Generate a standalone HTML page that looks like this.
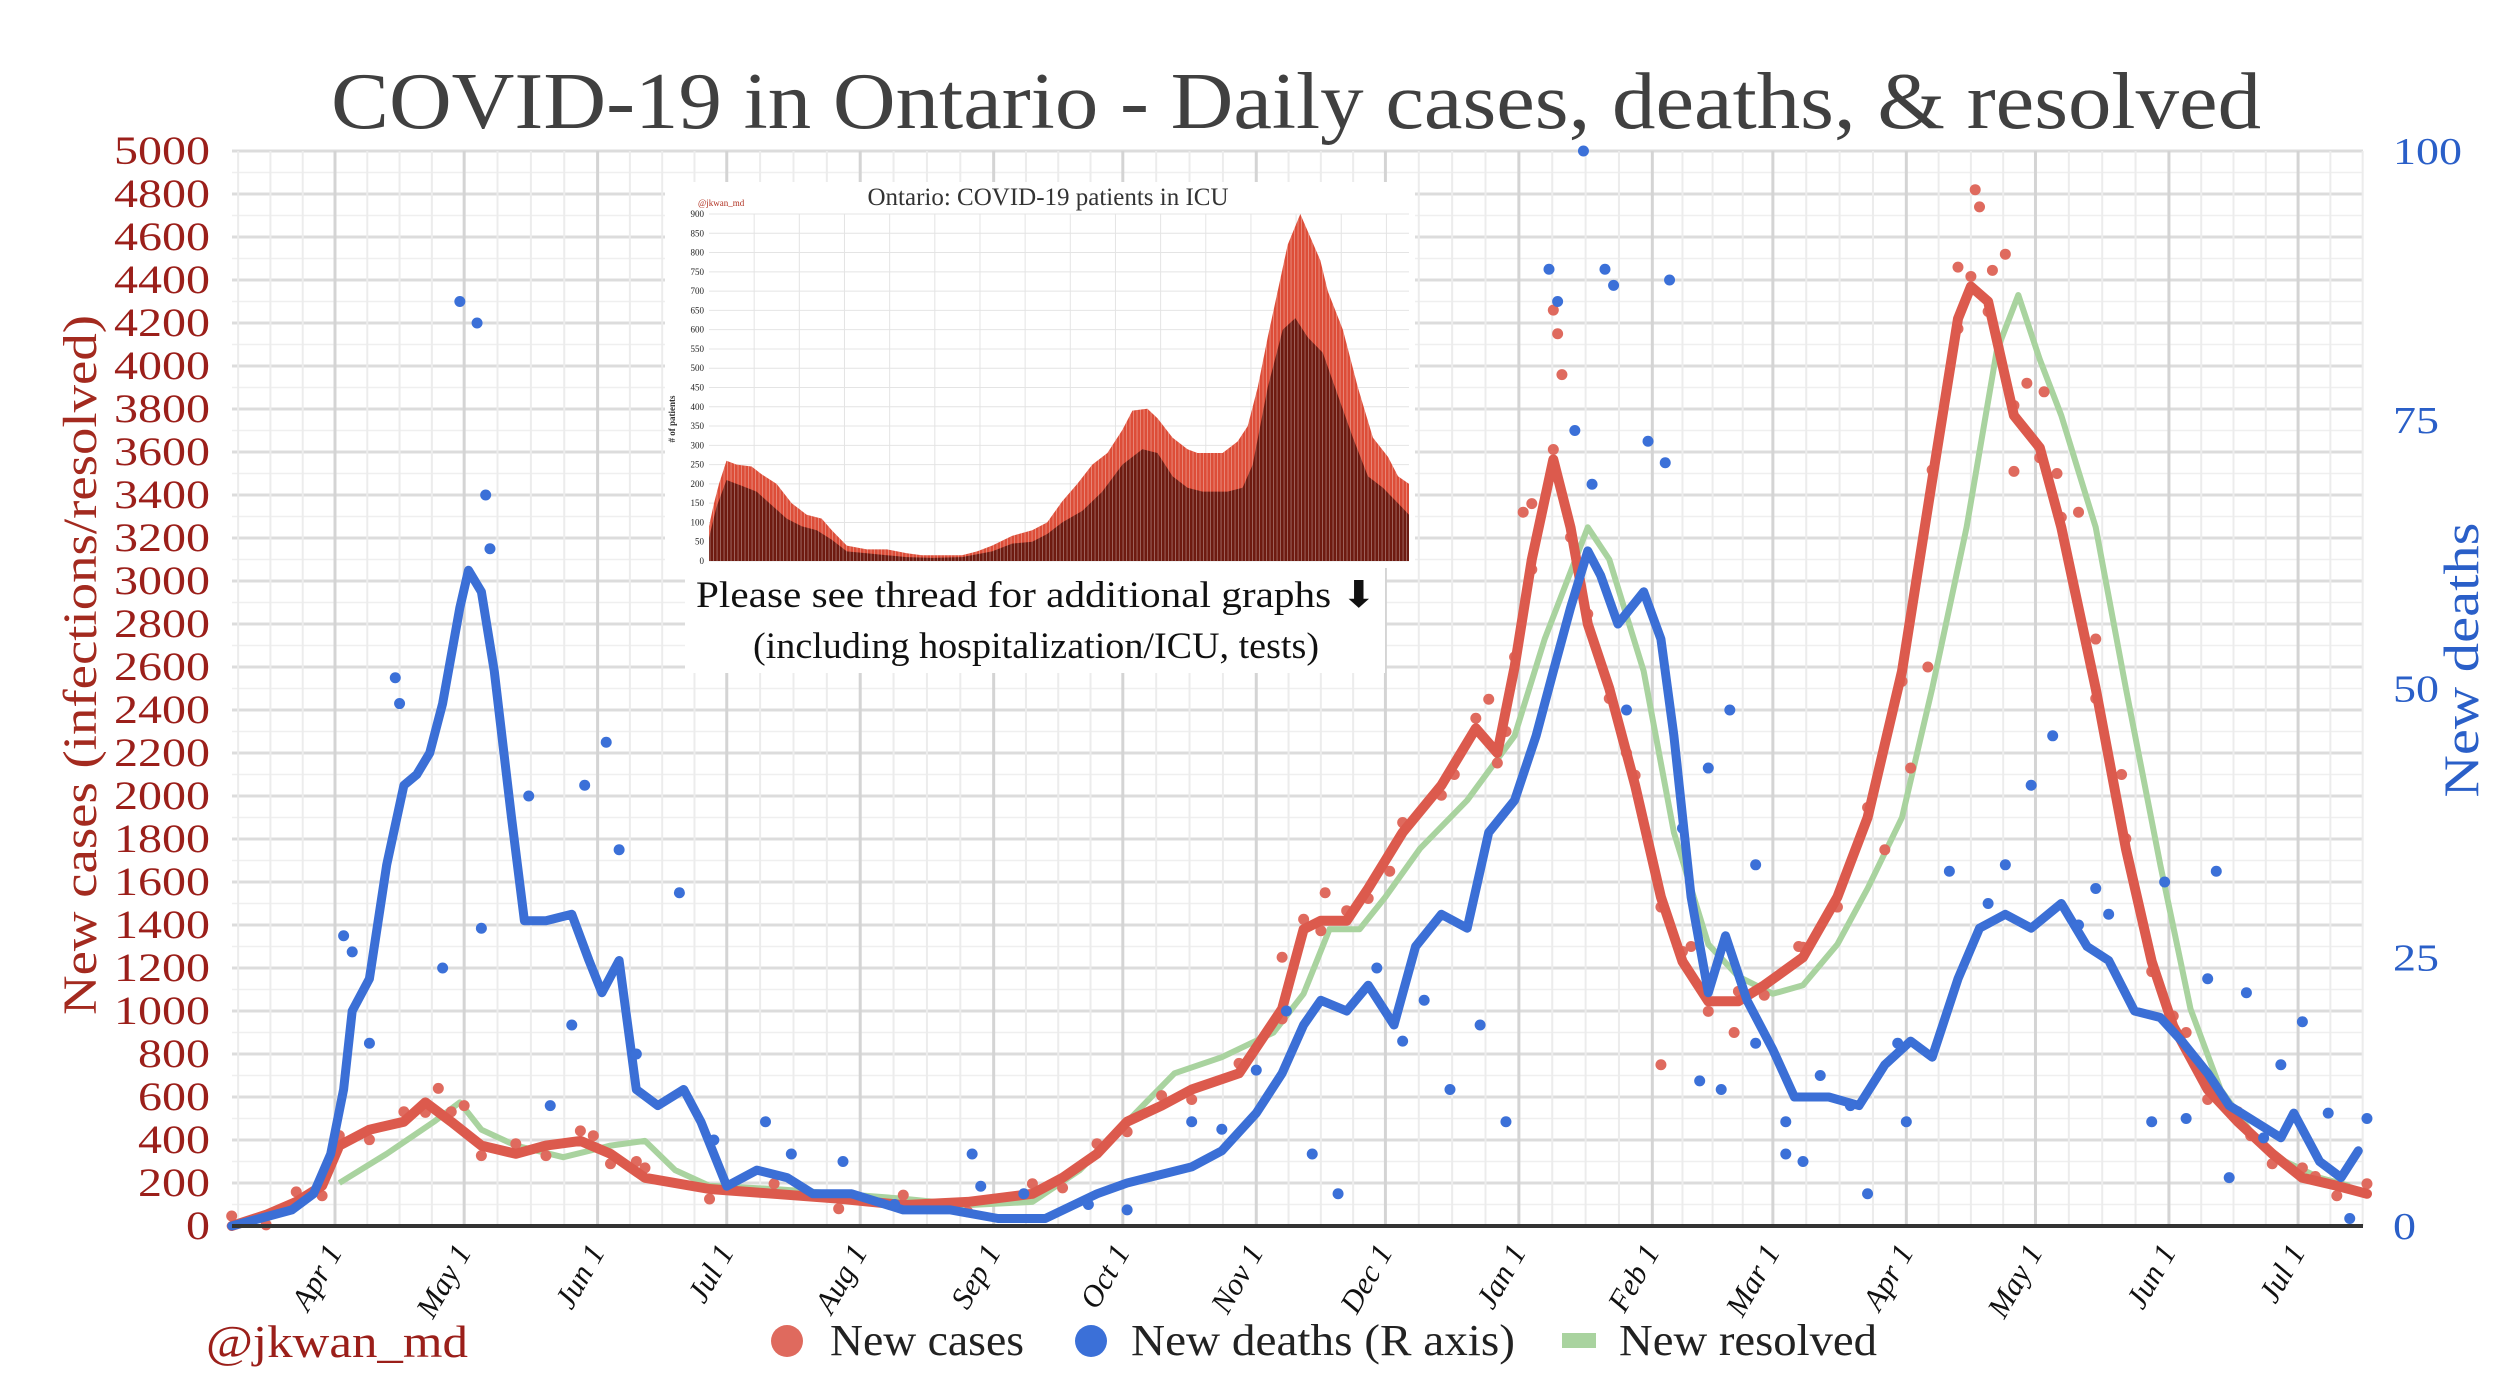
<!DOCTYPE html>
<html><head><meta charset="utf-8"><style>
html,body{margin:0;padding:0;background:#fff;}
svg{display:block;}
</style></head><body>
<svg id="chart" width="2514" height="1396" viewBox="0 0 2514 1396" xmlns="http://www.w3.org/2000/svg" font-family="'Liberation Serif', serif">
<defs>
<pattern id="barStripes" width="3.5" height="10" patternUnits="userSpaceOnUse"><rect x="2.6" y="0" width="0.9" height="10" fill="#fff" opacity="0.35"/></pattern>
</defs>
<g id="grid"></g>
<g id="series"></g>
<g id="inset"></g>
<g id="axes"></g>
<text x="1296" y="128" text-anchor="middle" font-size="80" fill="#404040" textLength="1930" lengthAdjust="spacingAndGlyphs">COVID-19 in Ontario - Daily cases, deaths, &amp; resolved</text>
<text transform="translate(96,665) rotate(-90)" text-anchor="middle" font-size="48" fill="#a32a1f" textLength="700" lengthAdjust="spacingAndGlyphs">New cases (infections/resolved)</text>
<text transform="translate(2478,660) rotate(-90)" text-anchor="middle" font-size="50" fill="#2a5fc8" textLength="275" lengthAdjust="spacingAndGlyphs">New deaths</text>
<g>
<text x="206" y="1357" font-size="46" fill="#9b1f1a" textLength="262" lengthAdjust="spacingAndGlyphs">@jkwan_md</text>
<circle cx="787" cy="1341" r="16" fill="#df6a5e"/>
<text x="830" y="1355" font-size="44" fill="#222" textLength="194" lengthAdjust="spacingAndGlyphs">New cases</text>
<circle cx="1091" cy="1341" r="16" fill="#3b70d8"/>
<text x="1131" y="1355" font-size="44" fill="#222" textLength="384" lengthAdjust="spacingAndGlyphs">New deaths (R axis)</text>
<rect x="1562" y="1333" width="34" height="15" fill="#a9d39f"/>
<text x="1619" y="1355" font-size="44" fill="#222" textLength="258" lengthAdjust="spacingAndGlyphs">New resolved</text>
</g>
<script>
// ---- data (day index: 0 = Apr 1 2020) ----
const caseDays = [-24,-16,-9,-3,1,8,16,21,27,34,42,49,57,64,72,87,102,117,132,147,162,169,177,184,192,199,210,220,225,229,235,240,248,257,265,270,274,278,283,287,291,296,302,308,313,319,326,332,341,349,356,364,371,377,380,384,390,396,401,409,416,422,427,435,442,450,457,465,472];
const caseValues = [0,52,112,187,374,448,485,575,485,374,336,374,396,336,224,172,150,127,97,112,150,224,336,485,560,635,710,1010,1380,1420,1420,1570,1830,2050,2315,2200,2600,3100,3565,3250,2800,2500,2050,1530,1230,1045,1045,1120,1250,1530,1900,2580,3470,4220,4370,4300,3770,3620,3250,2500,1755,1230,930,635,485,336,224,187,150];
const resolvedDays = [1,12,23,29,34,42,53,64,72,79,87,102,117,132,147,162,173,184,195,206,218,225,231,238,244,252,263,274,281,291,296,304,311,319,326,334,341,349,356,364,371,379,386,391,396,401,409,416,424,431,438,446,453,461,468];
const resolvedValues = [200,336,485,575,448,374,320,374,396,260,187,172,150,127,97,112,260,485,710,785,900,1080,1380,1380,1530,1755,1980,2280,2730,3250,3100,2580,1830,1310,1160,1080,1120,1310,1570,1900,2500,3250,4070,4330,4030,3770,3250,2500,1680,1010,635,411,300,224,187];
const deathDays = [-24,-10,-5,-1,2,4,8,12,16,19,22,25,29,31,34,37,41,44,49,55,59,62,66,70,75,81,85,91,98,105,111,120,132,143,154,165,177,184,192,199,206,214,220,225,229,235,240,246,251,257,263,268,274,279,283,287,291,294,298,304,308,311,315,319,323,328,334,339,347,354,360,366,371,377,382,388,394,401,407,412,418,424,429,435,440,446,452,455,461,466,470];
const deathValues = [0,1.5,3,6.7,12.7,20,23,33.6,41,42,44,48.6,57.5,61,59,51.6,38,28.4,28.4,29,24.7,21.7,24.7,12.7,11.2,12.7,9.7,3.7,5.2,4.5,3,3,1.5,1.5,0.7,0.7,3,4,4.8,5.5,7,10.5,14.2,18.7,21,20,22.4,18.7,26,29,27.7,36.6,39.6,45.6,51.6,57.5,62.8,60.5,56,59,54.6,45.6,30.6,21.7,27,21,16.4,12,12,11.2,15,17.2,15.7,23,27.7,29,27.7,30,26,24.7,20,19.4,17.2,14.2,11.2,9.7,8.2,10.5,6,4.5,7];
const deathDotDays = [29,33,35,36,14,15,63,58,66,80,2,4,8,25,34,55,50,106,100,148,150,184,199,206,214,221,227,233,248,259,266,272,282,284,295,297,310,290,288,292,305,309,324,319,330,317,322,337,341,356,365,384,388,394,399,409,412,425,435,437,444,448,457,463,472,468,440,422,363,352,337,330,45,70,88,118,130,160,175,242,253,300,313,345,375,405,430,452];
const deathDotValues = [86,84,68,63,51,48.6,45,41,35,31,27,25.5,17,24,27.7,18.7,11.2,6.7,9.7,6.7,3.7,1.5,9.7,9,14.5,20,6.7,3,17.2,12.7,18.7,9.7,89,86,89,87.5,88,100,74,69,73,71,48,42.6,33.6,13.5,12.7,6.7,6,3,9.7,30,33.6,41,45.6,31.4,29,32,23,33,21.7,8.2,19,10.5,10,0.7,4.5,9.7,17,11.2,9.7,17,40,16,8,6,2,3,2,24,21,48,37,14,33,28,10,15];
const caseDotDays = [283,284,285,381,382,377,385,388,393,397,390,278,276,405,409,308,366,24,30,60,70,220,230,245,260,268,272,300,315,325,340,360,370,400,415,430,445,460];
const caseDotValues = [4260,4150,3960,4820,4740,4460,4445,4520,3920,3880,3510,3360,3320,3320,2730,750,2130,640,560,420,300,1250,1550,1650,2100,2450,2300,2200,1300,900,1300,1750,2600,3500,2100,900,420,230];
// ICU inset (index along inset time axis 0..1397)
const icuIdx = [0,10,20,35,55,85,105,135,165,195,225,245,275,315,355,395,425,465,505,535,565,605,645,675,705,735,765,795,825,845,875,895,925,955,975,1025,1055,1075,1095,1115,1135,1155,1180,1200,1220,1235,1265,1295,1325,1355,1375,1397];
const icuTotal = [90,150,200,260,250,245,225,200,150,120,110,80,40,30,30,20,15,15,15,25,40,65,80,100,155,200,250,280,340,390,395,370,320,290,280,280,310,350,450,580,700,820,900,840,780,700,600,450,320,270,220,200];
const icuDarkIdx = [0,15,35,65,95,125,155,185,215,245,275,315,355,395,445,505,565,605,645,675,705,745,785,825,865,895,925,955,985,1035,1065,1085,1115,1145,1170,1195,1225,1255,1285,1315,1345,1375,1397];
const icuDark = [60,140,210,195,180,145,110,90,80,55,25,20,15,10,8,10,25,45,50,70,100,130,180,250,290,280,220,190,180,180,190,250,450,600,630,580,540,430,320,220,190,150,120];
const yTicks = [0,200,400,600,800,1000,1200,1400,1600,1800,2000,2200,2400,2600,2800,3000,3200,3400,3600,3800,4000,4200,4400,4600,4800,5000];
const rTicks = [0,25,50,75,100];
const monthLabels = ["Apr 1","May 1","Jun 1","Jul 1","Aug 1","Sep 1","Oct 1","Nov 1","Dec 1","Jan 1","Feb 1","Mar 1","Apr 1","May 1","Jun 1","Jul 1"];
const monthDays = [0,30,61,91,122,153,183,214,244,275,306,334,365,395,426,456];
const icuTicks = [0,50,100,150,200,250,300,350,400,450,500,550,600,650,700,750,800,850,900];

const NS = "http://www.w3.org/2000/svg";
const L = 232, R = 2363, T = 151, B = 1226;
const x = d => 335 + 4.305 * d;
const y = v => B - v / 5000 * (B - T);
const yD = v => B - v / 100 * (B - T);
const IT = 214, IB = 561;
const xi = i => 709 + i / 1397 * 700;
const yi = v => IB - v / 900 * (IB - IT);
function mk(tag, attrs, parent) {
  const e = document.createElementNS(NS, tag);
  for (const k in attrs) e.setAttribute(k, attrs[k]);
  parent.appendChild(e);
  return e;
}
const grid = document.getElementById('grid');
const ser = document.getElementById('series');
const ins = document.getElementById('inset');
const axes = document.getElementById('axes');

// grid
yTicks.forEach(t => {
  const ln = mk('line', {x1: L, x2: R, y1: y(t), y2: y(t), stroke: '#dcdcdc', 'stroke-width': 3}, grid);
  
  
  if (t < 5000) {
    const m = mk('line', {x1: L, x2: R, y1: y(t + 100), y2: y(t + 100), stroke: '#efefef', 'stroke-width': 1.5}, grid);
    
    
  }
});
for (let i = -1; i < monthDays.length; i++) {
  const d0 = i < 0 ? -30 : monthDays[i];
  const d1 = i + 1 < monthDays.length ? monthDays[i + 1] : d0 + 30;
  for (let q = 1; q < 4; q++) {
    const xd = x(d0 + (d1 - d0) * q / 4);
    if (xd > L && xd < R) {
      const m = mk('line', {x1: xd, x2: xd, y1: T, y2: B, stroke: '#ececec', 'stroke-width': 2}, grid);
      
      
    }
  }
}
monthDays.forEach(d => {
  const ln = mk('line', {x1: x(d), x2: x(d), y1: T, y2: B, stroke: '#d4d4d4', 'stroke-width': 3}, grid);
  
  
});

function path(days, vals, fy) {
  return days.map((d, i) => (i ? 'L' : 'M') + x(d).toFixed(1) + ',' + fy(vals[i]).toFixed(1)).join(' ');
}
// resolved
const gp = mk('path', {d: path(resolvedDays, resolvedValues, y), fill: 'none', stroke: '#a9d39f', 'stroke-width': 6, 'stroke-linejoin': 'round'}, ser);


// case dots along line
caseDays.forEach((d, i) => {
  const c = mk('circle', {cx: x(d), cy: y(caseValues[i]) + (i % 2 ? 10 : -10), r: 5.5, fill: '#df6a5e'}, ser);
  
  
});
caseDotDays.forEach((d, i) => {
  const c = mk('circle', {cx: x(d), cy: y(caseDotValues[i]), r: 5.5, fill: '#df6a5e'}, ser);
  
  
});
const rp = mk('path', {d: path(caseDays, caseValues, y), fill: 'none', stroke: '#dc5a4d', 'stroke-width': 10, 'stroke-linejoin': 'round', 'stroke-linecap': 'round'}, ser);


const bp = mk('path', {d: path(deathDays, deathValues, yD), fill: 'none', stroke: '#3b6fd6', 'stroke-width': 9, 'stroke-linejoin': 'round', 'stroke-linecap': 'round'}, ser);


deathDotDays.forEach((d, i) => {
  const c = mk('circle', {cx: x(d), cy: yD(deathDotValues[i]), r: 5.5, fill: '#3b70d8'}, ser);
  
  
});

// axes
const base = mk('line', {x1: L, x2: R, y1: B, y2: B, stroke: '#333', 'stroke-width': 4}, axes);


yTicks.forEach(t => {
  const s = String(t);
  const tx = mk('text', {x: 210, y: y(t) + 13, 'text-anchor': 'end', 'font-size': 40, fill: '#9b1f1a', textLength: s.length * 24, lengthAdjust: 'spacingAndGlyphs'}, axes);
  tx.textContent = s;
  
  
});
rTicks.forEach(t => {
  const s = String(t);
  const tx = mk('text', {x: 2393, y: yD(t) + 13, 'font-size': 38, fill: '#2a5fc8', textLength: s.length * 23, lengthAdjust: 'spacingAndGlyphs'}, axes);
  tx.textContent = s;
  
  
});
monthDays.forEach((d, i) => {
  const tx = mk('text', {transform: 'translate(' + (x(d) + 8) + ',1252) rotate(-60)', 'text-anchor': 'end', 'font-size': 31, 'font-style': 'italic', fill: '#111'}, axes);
  tx.textContent = monthLabels[i];
  
  
});

// inset
const bg = mk('rect', {x: 665, y: 182, width: 750, height: 386, fill: '#fff'}, ins);


const bg2 = mk('rect', {x: 685, y: 567, width: 700, height: 106, fill: '#fff'}, ins);


icuTicks.forEach(t => {
  const ln = mk('line', {x1: 709, x2: 1409, y1: yi(t), y2: yi(t), stroke: '#e4e4e4', 'stroke-width': 1}, ins);
  
  
  const tx = mk('text', {x: 704, y: yi(t) + 3, 'text-anchor': 'end', 'font-size': 9, fill: '#222'}, ins);
  tx.textContent = t;
  
  
});
for (let k = 1; k < 16; k++) {
  const xv = 709 + k * 700 / 15.5;
  const ln = mk('line', {x1: xv, x2: xv, y1: IT, y2: IB, stroke: '#e4e4e4', 'stroke-width': 1}, ins);
  
  
}
function area(idx, vals) {
  let d = 'M' + xi(idx[0]) + ',' + yi(0);
  idx.forEach((v, i) => { d += ' L' + xi(v).toFixed(1) + ',' + yi(vals[i]).toFixed(1); });
  return d + ' L' + xi(idx[idx.length - 1]) + ',' + yi(0) + ' Z';
}
const at = mk('path', {d: area(icuIdx, icuTotal), fill: '#dd4d38'}, ins);


const ad = mk('path', {d: area(icuDarkIdx, icuDark), fill: '#6e1a10'}, ins);


const st = mk('path', {d: area(icuIdx, icuTotal), fill: 'url(#barStripes)'}, ins);


const it = mk('text', {x: 1048, y: 205, 'text-anchor': 'middle', 'font-size': 25, fill: '#333'}, ins);
it.textContent = 'Ontario: COVID-19 patients in ICU';


const ih = mk('text', {x: 698, y: 206, 'font-size': 9, fill: '#b03020'}, ins);
ih.textContent = '@jkwan_md';


const iy = mk('text', {transform: 'translate(675,419) rotate(-90)', 'text-anchor': 'middle', 'font-size': 9, 'font-weight': 'bold', fill: '#333'}, ins);
iy.textContent = '# of patients';


const c1 = mk('text', {x: 1036, y: 607, 'text-anchor': 'middle', 'font-size': 37, fill: '#111', textLength: 680, lengthAdjust: 'spacingAndGlyphs'}, ins);
c1.textContent = 'Please see thread for additional graphs \u2B07';


const c2 = mk('text', {x: 1036, y: 658, 'text-anchor': 'middle', 'font-size': 37, fill: '#111', textLength: 566, lengthAdjust: 'spacingAndGlyphs'}, ins);
c2.textContent = '(including hospitalization/ICU, tests)';


</script>
</svg>
</body></html>
